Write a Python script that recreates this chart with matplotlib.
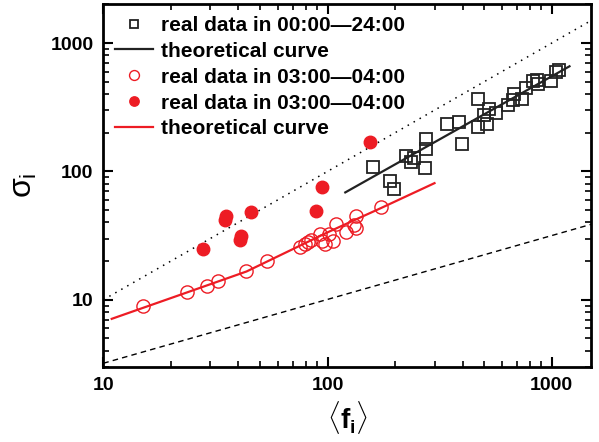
import numpy as np
import matplotlib
matplotlib.use('Agg')
import matplotlib.pyplot as plt

plt.rcParams['font.family'] = ['Liberation Sans', 'DejaVu Sans']
plt.rcParams['mathtext.fontset'] = 'custom'
plt.rcParams['mathtext.rm'] = 'Liberation Sans'
plt.rcParams['mathtext.it'] = 'Liberation Sans'
plt.rcParams['mathtext.bf'] = 'Liberation Sans:bold'

# real data 00:00-24:00 (black squares)
all_f = [159, 189, 197, 223, 235, 244, 276, 276, 273, 340, 387, 396, 467, 467,
         497, 523, 517, 563, 641, 676, 669, 740, 771, 826, 863, 872, 993, 1078, 1050]
all_sigma = [109, 84, 73, 132, 118, 128, 178, 149, 106, 236, 243, 163, 364, 222,
             276, 307, 235, 283, 332, 403, 357, 364, 448, 504, 512, 484, 504, 622, 594]

# real data 03:00-04:00 (red open circles)
night_f = [15.1, 23.6, 28.9, 32.5, 43.5, 53.9, 75.1, 79.0, 81.7, 84.6, 92.1,
           94.7, 97.0, 102, 105.6, 109.3, 121.1, 131.9, 133.9, 134.2, 172.7]
night_sigma = [8.9, 11.5, 12.8, 14.0, 16.6, 20.0, 25.9, 27.2, 28.1, 29.2, 32.5,
               28.9, 27.2, 32.5, 28.9, 38.9, 33.5, 38.2, 36.2, 44.9, 53.2]

# real data 03:00-04:00 (red filled circles)
night2_f = [27.9, 35.2, 34.8, 41.3, 40.9, 45.4, 89.1, 94.3, 155.4]
night2_sigma = [24.9, 45.3, 42.0, 31.2, 29.4, 48.0, 49.4, 75.8, 169.4]

# theoretical curves
theo_all_f = [120, 1200]
theo_all_sigma = [68.6, 659]
theo_night_f = [10.9, 23.6, 43.5, 100, 172.7, 300]
theo_night_sigma = [7.1, 11.4, 16.6, 33.5, 51.7, 81]

# reference lines
ref_f = [10, 1500]
ref_slope1 = [10, 1500]
ref_slope_half = [3.2, 38.7]

red = '#ED1C24'

fig = plt.figure(figsize=(5.99, 4.42), dpi=100)
ax = fig.add_axes([0.1725, 0.17, 0.8145, 0.82])

ax.plot(ref_f, ref_slope1, color='black', lw=1.1, linestyle=(0, (1, 3.5)))
ax.plot(ref_f, ref_slope_half, color='black', lw=1.0, linestyle=(0, (4, 3)))

ax.plot(all_f, all_sigma, 's', mfc='none', mec='#222222', mew=1.3, ms=8.3,
        label='real data in 00:00\u201424:00')
ax.plot(theo_all_f, theo_all_sigma, color='#222222', lw=1.6, label='theoretical curve')
ax.plot(night_f, night_sigma, 'o', mfc='none', mec=red, mew=1.0, ms=9.5,
        label='real data in 03:00\u201404:00')
ax.plot(night2_f, night2_sigma, 'o', color=red, ms=9,
        label='real data in 03:00\u201404:00')
ax.plot(theo_night_f, theo_night_sigma, color=red, lw=1.6, label='theoretical curve')

ax.set_xscale('log')
ax.set_yscale('log')
ax.set_xlim(10, 1500)
ax.set_ylim(3, 2000)

ax.tick_params(which='both', direction='in', top=True, right=True,
               labelsize=14, pad=7)
ax.tick_params(which='major', length=7, width=1.5)
ax.tick_params(which='minor', length=4, width=1.2)
for s in ax.spines.values():
    s.set_linewidth(2)

ax.set_xticks([10, 100, 1000])
ax.set_xticklabels(['10', '100', '1000'], fontweight='bold')
ax.set_yticks([10, 100, 1000])
ax.set_yticklabels(['10', '100', '1000'], fontweight='bold')

ax.set_xlabel(r'$\langle\mathbf{f}_\mathbf{i}\rangle$', fontsize=20, labelpad=4)
ax.set_ylabel(r'$\sigma_\mathrm{i}$', fontsize=23, labelpad=8)

leg = ax.legend(loc='upper left', frameon=False, prop={'weight': 'bold', 'size': 15},
                handlelength=1.85, handletextpad=0.35, labelspacing=0.33,
                borderaxespad=0.15, markerscale=0.75)

fig.savefig('out.png', dpi=100)
